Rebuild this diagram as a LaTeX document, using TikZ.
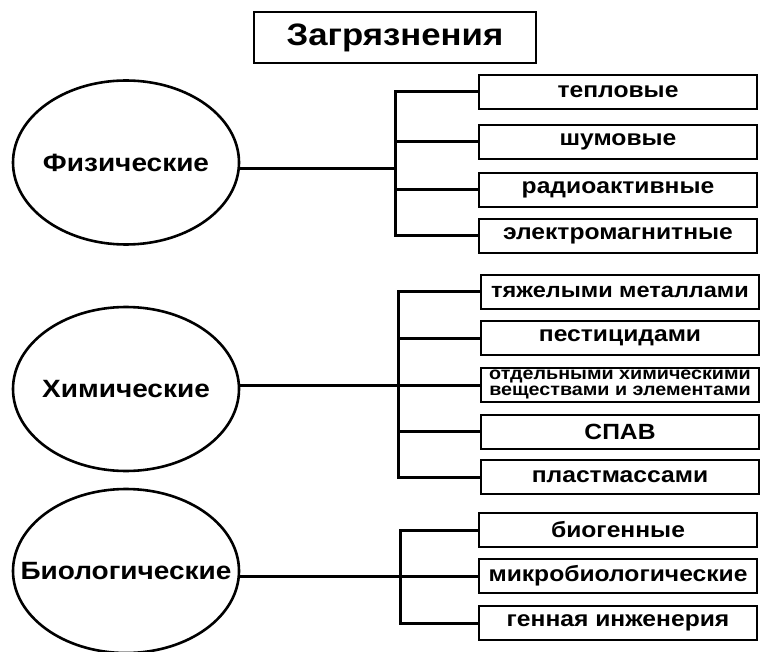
\documentclass[tikz,border=0pt]{standalone}
\usepackage{fontspec}
\setmainfont{Liberation Sans}[FakeStretch=1.12]
\usepackage{tikz}
\usetikzlibrary{positioning, shapes.geometric}

\begin{document}
\begin{tikzpicture}[
        x=1pt, y=-1pt,
        % group circles on the left, one per kind of pollution
        % (negative inner sep keeps the long label from widening the ellipse)
        grp/.style  ={draw, ellipse, line width=2.6pt, minimum width=226pt, minimum height=164pt,
                font=\fontsize{25}{27}\selectfont\bfseries, inner sep=-40pt},
        kind/.style ={draw, line width=2pt, minimum width=278pt, minimum height=34pt,
                font=\fontsize{22}{24}\selectfont\bfseries, align=center, inner sep=1pt},
        head/.style ={draw, line width=2.2pt, minimum width=282pt, minimum height=51pt,
                font=\fontsize{31}{33}\selectfont\bfseries},
        link/.style ={line width=3pt}
    ]
    \useasboundingbox (0,0) rectangle (765,652);

    \node[head] (title) at (395,37.5) {Загрязнения};

    % physical
    \node[grp] (phys) at (126,162.5) {Физические};
    \node[kind] (heat)  at (618,92)  {тепловые};
    \node[kind] (noise) at (618,142) {шумовые};
    \node[kind] (rad)   at (618,190) {радиоактивные};
    \node[kind] (emag)  at (618,236) {электромагнитные};
    \coordinate (pbus) at (395,169);

    % chemical
    \node[grp] (chem) at (126,389) {Химические};
    \node[kind, font=\fontsize{21}{23}\selectfont\bfseries] (metal) at (620,291.5) {тяжелыми металлами};
    \node[kind] (pest)  at (620,338)   {пестицидами};
    \node[kind, inner sep=0pt, font=\fontsize{17.6}{16}\selectfont\bfseries] (elem) at (620,385)
          {отдельными химическими\\ веществами и элементами};
    \node[kind] (spav)  at (620,431.5) {СПАВ};
    \node[kind] (plast) at (620,477)   {пластмассами};
    \coordinate (cbus) at (398,385);

    % biological
    \node[grp] (bio) at (126,571) {Биологические};
    \node[kind] (biog)  at (618,530) {биогенные};
    \node[kind] (micro) at (618,576) {микробиологические};
    \node[kind] (gene)  at (618,623) {генная инженерия};
    \coordinate (bbus) at (400,576);

    \draw[link] ([yshift=-6.5pt]phys.east) -- (pbus);
    \draw[link] (heat.west)  -| (pbus);
    \draw[link] (emag.west)  -| (pbus);
    \draw[link] (noise.west) -- (noise.west -| pbus);
    \draw[link] (rad.west)   -- (rad.west -| pbus);

    \draw[link] (chem.east |- cbus) -- (elem.west);
    \draw[link] (metal.west) -| (cbus);
    \draw[link] (plast.west) -| (cbus);
    \draw[link] (pest.west)  -- (pest.west -| cbus);
    \draw[link] (spav.west)  -- (spav.west -| cbus);

    \draw[link] (bio.east |- bbus) -- (micro.west);
    \draw[link] (biog.west)  -| (bbus);
    \draw[link] (gene.west)  -| (bbus);

\end{tikzpicture}
\end{document}
